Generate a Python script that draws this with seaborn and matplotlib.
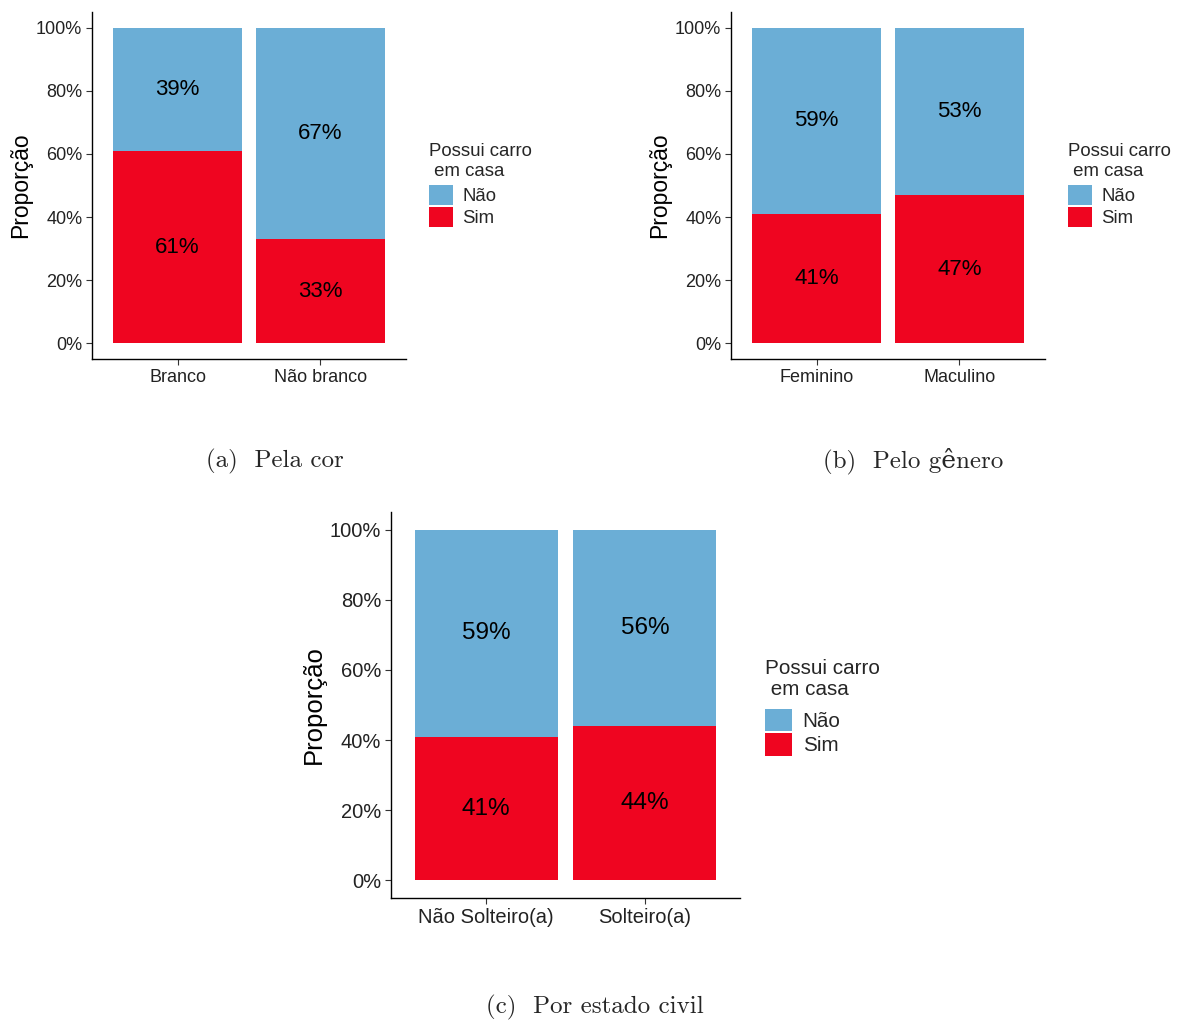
import numpy as np
import pandas as pd
import matplotlib.pyplot as plt
from matplotlib.patches import Patch
import matplotlib.ticker as mticker
import seaborn as sns

# ── Dados ────────────────────────────────────────────────────────────────────
cor_cats = ['Branco', 'Não branco']
cor_sim = [0.61, 0.33]
cor_nao = [0.39, 0.67]

gen_cats = ['Feminino', 'Maculino']
gen_sim = [0.41, 0.47]
gen_nao = [0.59, 0.53]

civ_cats = ['Não Solteiro(a)', 'Solteiro(a)']
civ_sim = [0.41, 0.44]
civ_nao = [0.59, 0.56]

legenda_titulo = 'Possui carro\n em casa'
legenda_itens = ['Não', 'Sim']
legendas = ['(a)  Pela cor', '(b)  Pelo gênero', '(c)  Por estado civil']

AZUL = '#6BAED6'
VERMELHO = '#EF0520'

sns.set_style('white')
plt.rcParams['font.family'] = ['Liberation Sans', 'DejaVu Sans']

fig = plt.figure(figsize=(11.81, 10.21), dpi=100)


def painel(rect, cats, sim, nao, fs_tick, fs_lab, fs_ylab, fs_leg, leg_y, key,
           title_ls, sep):
    ax = fig.add_axes(rect)
    df = pd.DataFrame({'cat': cats, 'sim': sim, 'nao': nao})
    df['total'] = df['sim'] + df['nao']
    # barra total (Não) e por cima a parte Sim
    sns.barplot(data=df, x='cat', y='total', color=AZUL, width=0.9,
                saturation=1, linewidth=0, ax=ax)
    sns.barplot(data=df, x='cat', y='sim', color=VERMELHO, width=0.9,
                saturation=1, linewidth=0, ax=ax)
    for i, row in df.iterrows():
        ax.text(i, row['sim'] / 2, f"{row['sim']:.0%}", ha='center',
                va='center', fontsize=fs_lab, color='black')
        ax.text(i, row['sim'] + row['nao'] / 2, f"{row['nao']:.0%}",
                ha='center', va='center', fontsize=fs_lab, color='black')
    ax.set_xlim(-0.6, 1.6)
    ax.set_ylim(-0.05, 1.05)
    ax.set_yticks(np.arange(0, 1.01, 0.2))
    ax.yaxis.set_major_formatter(mticker.PercentFormatter(1.0, decimals=0))
    ax.set_xlabel('')
    ax.set_ylabel('Proporção', fontsize=fs_ylab, color='black', labelpad=3)
    ax.tick_params(axis='both', which='both', length=4, width=0.8,
                   color='#333333', labelsize=fs_tick, labelcolor='#222222',
                   left=True, bottom=True, pad=3)
    for s in ['top', 'right']:
        ax.spines[s].set_visible(False)
    for s in ['left', 'bottom']:
        ax.spines[s].set_color('black')
        ax.spines[s].set_linewidth(1.0)
    handles = [Patch(facecolor=AZUL, edgecolor='none'),
               Patch(facecolor=VERMELHO, edgecolor='none')]
    leg = ax.legend(handles, legenda_itens, title=legenda_titulo,
                    loc='upper left', bbox_to_anchor=(1.073, leg_y),
                    frameon=False, borderpad=0, fontsize=fs_leg,
                    title_fontsize=fs_leg, alignment='left',
                    handlelength=key, handleheight=key, labelspacing=0.1,
                    handletextpad=0.5, borderaxespad=0)
    leg.get_title().set_linespacing(title_ls)
    leg._legend_box.sep = sep
    return ax


W, H = 1181, 1021
painel([92 / W, 1 - 359 / H, 314 / W, 347 / H], cor_cats, cor_sim, cor_nao,
       13, 16, 16.5, 13.4, 0.622, 1.3, 1.25, 3)
painel([731 / W, 1 - 359 / H, 314 / W, 347 / H], gen_cats, gen_sim, gen_nao,
       13, 16, 16.5, 13.4, 0.622, 1.3, 1.25, 3)
painel([391 / W, 1 - 898 / H, 349 / W, 386 / H], civ_cats, civ_sim, civ_nao,
       14.5, 17.5, 18.5, 14.9, 0.62, 1.3, 1.15, 7)

serif = ['cmr10', 'DejaVu Serif']
fig.text(275 / W, 1 - 461 / H, legendas[0], ha='center', va='center',
         fontsize=18, family=serif)
fig.text(913 / W, 1 - 461 / H, legendas[1], ha='center', va='center',
         fontsize=18, family=serif)
fig.text(595 / W, 1 - 1007 / H, legendas[2], ha='center', va='center',
         fontsize=18, family=serif)

fig.savefig('out.png', dpi=100, facecolor='white')
